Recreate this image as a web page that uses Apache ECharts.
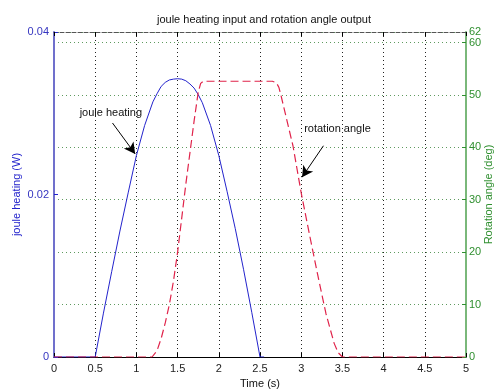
<!DOCTYPE html>
<html>
<head>
<meta charset="utf-8">
<script src="https://cdn.jsdelivr.net/npm/echarts@6/dist/echarts.min.js"></script>
<style>
  html, body { margin: 0; padding: 0; background: #fff; }
  #chart { width: 499px; height: 392px; }
</style>
</head>
<body>
<div id="chart"></div>
<script>
// joule heating (W), left axis
let timeHeat = [0, 0.5, 0.6, 0.7, 0.8, 0.9, 1.0, 1.1, 1.2, 1.25, 1.3, 1.35, 1.4, 1.45, 1.5, 1.55, 1.6, 1.65, 1.7, 1.75, 1.8, 1.9, 2.0, 2.1, 2.2, 2.3, 2.4, 2.5, 2.55];
let heatW = [0, 0, 0.0054, 0.0105, 0.0155, 0.0202, 0.0248, 0.0285, 0.0314, 0.0324, 0.0333, 0.0338, 0.0341, 0.0342, 0.03425, 0.0342, 0.0340, 0.0336, 0.0331, 0.0323, 0.0313, 0.0285, 0.0248, 0.0204, 0.0158, 0.0108, 0.0055, 0, 0];

// rotation angle (deg), right axis
let timeRot = [0, 1.19, 1.25, 1.30, 1.35, 1.40, 1.45, 1.50, 1.55, 1.60, 1.65, 1.70, 1.75, 1.78, 1.81, 2.65, 2.70, 2.73, 2.75, 2.80, 2.90, 3.00, 3.10, 3.20, 3.30, 3.40, 3.45, 3.50, 5];
let rotDeg = [0, 0, 1.2, 3.5, 6.5, 10, 14.5, 20, 26.5, 33, 39, 45, 50.5, 52.2, 52.6, 52.6, 52.3, 51.4, 50.2, 46.9, 40.3, 31.3, 23.4, 15.7, 8.3, 2.6, 0.8, 0, 0];

let xTicks = ['0', '0.5', '1', '1.5', '2', '2.5', '3', '3.5', '4', '4.5', '5'];
let leftTicks = ['0', '0.02', '0.04'];
let rotMax = 62;

// annotations: [x, y] in data units
let heatLabelAt = [0.69, 0.0300];
let heatArrow = [[0.71, 0.0288], [0.985, 0.0250]];
let rotLabelAt = [3.44, 43.5];
let rotArrow = [[3.27, 40.3], [3.01, 34.3]];

let font = 'Liberation Sans';
let blue = '#2323cc';
let red = '#e0234a';
let green = '#2f8f2f';

let myChart = echarts.init(document.getElementById('chart'), null, { renderer: 'canvas' });

function pairs(xs, ys) {
    return xs.map(function (x, i) { return [x, ys[i]]; });
}

let option = {
    animation: false,
    backgroundColor: '#fff',
    title: {
        text: 'joule heating input and rotation angle output',
        left: 259,
        top: 9,
        textAlign: 'center',
        textStyle: { fontFamily: font, fontSize: 11, fontWeight: 'normal', color: '#111' }
    },
    grid: { left: 54, right: 33, top: 32, bottom: 35, containLabel: false, outerBoundsMode: 'none' },
    xAxis: [{
        type: 'value',
        min: 0, max: 5, interval: 0.5,
        name: 'Time (s)',
        nameLocation: 'middle',
        nameGap: 21,
        nameTextStyle: { fontFamily: font, fontSize: 11, color: '#111' },
        axisLine: { onZero: false, lineStyle: { color: '#000', width: 1 } },
        axisTick: { inside: true, length: 4, lineStyle: { color: '#000' } },
        axisLabel: {
            fontFamily: font, fontSize: 11, color: '#222', margin: 6,
            formatter: function (v) { return xTicks[Math.round(v / 0.5)]; }
        },
        splitLine: { show: true, lineStyle: { type: [1, 3], color: '#222', width: 1 } }
    }, {
        type: 'value',
        position: 'top',
        min: 0, max: 5, interval: 0.5,
        axisLine: { show: true, onZero: false, lineStyle: { color: '#555', type: [4, 2], width: 1 } },
        axisTick: { inside: true, length: 4, lineStyle: { color: '#000' } },
        axisLabel: { show: false },
        splitLine: { show: false }
    }],
    yAxis: [{
        type: 'value',
        min: 0, max: 0.04, interval: 0.02,
        name: 'joule heating (W)',
        nameLocation: 'middle',
        nameGap: 32,
        nameMoveOverlap: false,
        nameTextStyle: { fontFamily: font, fontSize: 11, color: blue },
        axisLine: { show: true, onZero: false, lineStyle: { color: '#7070cc', width: 2 } },
        axisTick: { show: true, inside: true, length: 4, lineStyle: { color: blue } },
        axisLabel: {
            fontFamily: font, fontSize: 11, color: '#3535c0', margin: 5,
            formatter: function (v) { return leftTicks[Math.round(v / 0.02)]; }
        },
        splitLine: { show: false }
    }, {
        type: 'value',
        position: 'right',
        min: 0, max: rotMax, interval: 10,
        name: 'Rotation angle (deg)',
        nameLocation: 'middle',
        nameGap: 17,
        nameMoveOverlap: false,
        nameRotate: 90,
        nameTextStyle: { fontFamily: font, fontSize: 11, color: green },
        axisLine: { show: true, onZero: false, lineStyle: { color: '#7ab87a', width: 2 } },
        axisTick: { show: true, inside: true, length: 4, lineStyle: { color: green } },
        axisLabel: { fontFamily: font, fontSize: 11, color: green, margin: 3, showMaxLabel: false },
        splitLine: { show: true, lineStyle: { type: [1, 3], color: '#5f9a5f', width: 1 } }
    }, {
        // only carries the "62" label at the top of the right axis
        type: 'value',
        position: 'right',
        min: 0, max: rotMax, interval: rotMax,
        axisLine: { show: false, onZero: false },
        axisTick: { show: false },
        axisLabel: {
            fontFamily: font, fontSize: 11, color: green, margin: 3,
            showMaxLabel: true,
            formatter: function (v) { return v === rotMax ? String(rotMax) : ''; }
        },
        splitLine: { show: false }
    }],
    series: [{
        name: 'joule heating',
        type: 'line',
        xAxisIndex: 0,
        yAxisIndex: 0,
        data: pairs(timeHeat, heatW),
        showSymbol: false,
        symbol: 'none',
        smooth: false,
        lineStyle: { color: blue, width: 1 },
        z: 3,
        markLine: {
            silent: true,
            symbol: ['none', 'arrow'],
            symbolSize: [9, 11],
            label: { show: false },
            lineStyle: { color: '#000', width: 1, type: 'solid' },
            data: [[{ coord: heatArrow[0] }, { coord: heatArrow[1] }]]
        },
        markPoint: {
            silent: true,
            symbol: 'circle',
            symbolSize: 0,
            label: {
                show: true, position: 'inside', color: '#111',
                fontFamily: font, fontSize: 11,
                formatter: 'joule heating'
            },
            data: [{ coord: heatLabelAt }]
        }
    }, {
        name: 'rotation angle',
        type: 'line',
        xAxisIndex: 0,
        yAxisIndex: 1,
        data: pairs(timeRot, rotDeg),
        showSymbol: false,
        symbol: 'none',
        smooth: false,
        lineStyle: { color: red, width: 1.2, type: [8, 4] },
        z: 4,
        markLine: {
            silent: true,
            symbol: ['none', 'arrow'],
            symbolSize: [9, 11],
            label: { show: false },
            lineStyle: { color: '#000', width: 1, type: 'solid' },
            data: [[{ coord: rotArrow[0] }, { coord: rotArrow[1] }]]
        },
        markPoint: {
            silent: true,
            symbol: 'circle',
            symbolSize: 0,
            label: {
                show: true, position: 'inside', color: '#111',
                fontFamily: font, fontSize: 11,
                formatter: 'rotation angle'
            },
            data: [{ coord: rotLabelAt }]
        }
    }]
};

myChart.setOption(option);
</script>
</body>
</html>
